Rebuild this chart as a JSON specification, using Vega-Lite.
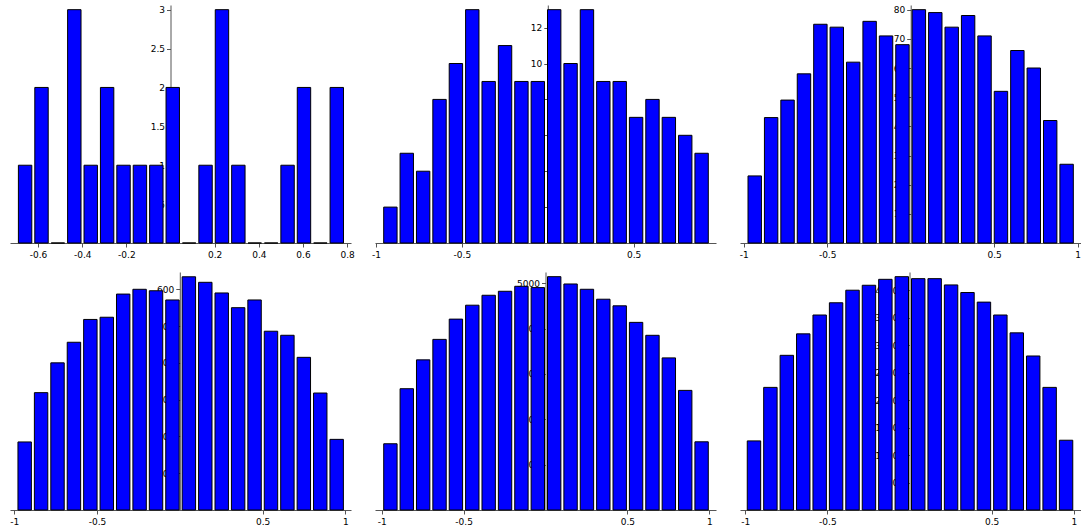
{
  "$schema": "https://vega.github.io/schema/vega-lite/v6.json",
  "autosize": {"type": "pad"},
  "padding": {"left": 9, "top": 5, "right": 0, "bottom": 0},
  "background": "white",
  "config": {
    "view": {"stroke": null},
    "axis": {
      "labelFont": "DejaVu Sans",
      "labelFontSize": 9,
      "labelColor": "#000",
      "domainColor": "#555",
      "tickColor": "#555",
      "tickSize": 4,
      "grid": false,
      "title": null,
      "zindex": 1,
      "labelExpr": "toString(datum.value)"
    },
    "axisX": {"labelPadding": 3},
    "axisY": {"labelPadding": 2}
  },
  "datasets": {
    "p1": [
      {"a": -0.698, "b": -0.6237, "n": 1}, {"a": -0.6237, "b": -0.5494, "n": 2}, {"a": -0.5494, "b": -0.4751, "n": 0}, {"a": -0.4751, "b": -0.4008, "n": 3},
      {"a": -0.4008, "b": -0.3265, "n": 1}, {"a": -0.3265, "b": -0.2522, "n": 2}, {"a": -0.2522, "b": -0.1779, "n": 1}, {"a": -0.1779, "b": -0.1036, "n": 1},
      {"a": -0.1036, "b": -0.0293, "n": 1}, {"a": -0.0293, "b": 0.045, "n": 2}, {"a": 0.045, "b": 0.1193, "n": 0}, {"a": 0.1193, "b": 0.1936, "n": 1},
      {"a": 0.1936, "b": 0.2679, "n": 3}, {"a": 0.2679, "b": 0.3422, "n": 1}, {"a": 0.3422, "b": 0.4165, "n": 0}, {"a": 0.4165, "b": 0.4908, "n": 0},
      {"a": 0.4908, "b": 0.5651, "n": 1}, {"a": 0.5651, "b": 0.6394, "n": 2}, {"a": 0.6394, "b": 0.7137, "n": 0}, {"a": 0.7137, "b": 0.788, "n": 2}
    ],
    "p2": [
      {"a": -0.967, "b": -0.8716, "n": 2}, {"a": -0.8716, "b": -0.7762, "n": 5}, {"a": -0.7762, "b": -0.6808, "n": 4}, {"a": -0.6808, "b": -0.5854, "n": 8},
      {"a": -0.5854, "b": -0.49, "n": 10}, {"a": -0.49, "b": -0.3946, "n": 13}, {"a": -0.3946, "b": -0.2992, "n": 9}, {"a": -0.2992, "b": -0.2038, "n": 11},
      {"a": -0.2038, "b": -0.1084, "n": 9}, {"a": -0.1084, "b": -0.013, "n": 9}, {"a": -0.013, "b": 0.0824, "n": 13}, {"a": 0.0824, "b": 0.1778, "n": 10},
      {"a": 0.1778, "b": 0.2732, "n": 13}, {"a": 0.2732, "b": 0.3686, "n": 9}, {"a": 0.3686, "b": 0.464, "n": 9}, {"a": 0.464, "b": 0.5594, "n": 7},
      {"a": 0.5594, "b": 0.6548, "n": 8}, {"a": 0.6548, "b": 0.7502, "n": 7}, {"a": 0.7502, "b": 0.8456, "n": 6}, {"a": 0.8456, "b": 0.941, "n": 5}
    ],
    "p3": [
      {"a": -0.986, "b": -0.8877, "n": 23}, {"a": -0.8877, "b": -0.7894, "n": 43}, {"a": -0.7894, "b": -0.6911, "n": 49}, {"a": -0.6911, "b": -0.5928, "n": 58},
      {"a": -0.5928, "b": -0.4945, "n": 75}, {"a": -0.4945, "b": -0.3962, "n": 74}, {"a": -0.3962, "b": -0.2979, "n": 62}, {"a": -0.2979, "b": -0.1996, "n": 76},
      {"a": -0.1996, "b": -0.1013, "n": 71}, {"a": -0.1013, "b": -0.003, "n": 68}, {"a": -0.003, "b": 0.0953, "n": 80}, {"a": 0.0953, "b": 0.1936, "n": 79},
      {"a": 0.1936, "b": 0.2919, "n": 74}, {"a": 0.2919, "b": 0.3902, "n": 78}, {"a": 0.3902, "b": 0.4885, "n": 71}, {"a": 0.4885, "b": 0.5868, "n": 52},
      {"a": 0.5868, "b": 0.6851, "n": 66}, {"a": 0.6851, "b": 0.7834, "n": 60}, {"a": 0.7834, "b": 0.8817, "n": 42}, {"a": 0.8817, "b": 0.98, "n": 27}
    ],
    "p4": [
      {"a": -0.99, "b": -0.8908, "n": 185}, {"a": -0.8908, "b": -0.7916, "n": 319}, {"a": -0.7916, "b": -0.6924, "n": 400}, {"a": -0.6924, "b": -0.5932, "n": 456},
      {"a": -0.5932, "b": -0.494, "n": 518}, {"a": -0.494, "b": -0.3948, "n": 524}, {"a": -0.3948, "b": -0.2956, "n": 587}, {"a": -0.2956, "b": -0.1964, "n": 600},
      {"a": -0.1964, "b": -0.0972, "n": 596}, {"a": -0.0972, "b": 0.002, "n": 571}, {"a": 0.002, "b": 0.1012, "n": 634}, {"a": 0.1012, "b": 0.2004, "n": 619},
      {"a": 0.2004, "b": 0.2996, "n": 590}, {"a": 0.2996, "b": 0.3988, "n": 550}, {"a": 0.3988, "b": 0.498, "n": 571}, {"a": 0.498, "b": 0.5972, "n": 486},
      {"a": 0.5972, "b": 0.6964, "n": 475}, {"a": 0.6964, "b": 0.7956, "n": 415}, {"a": 0.7956, "b": 0.8948, "n": 318}, {"a": 0.8948, "b": 0.994, "n": 192}
    ],
    "p5": [
      {"a": -1.0, "b": -0.9, "n": 1461}, {"a": -0.9, "b": -0.8, "n": 2675}, {"a": -0.8, "b": -0.7, "n": 3311}, {"a": -0.7, "b": -0.6, "n": 3763},
      {"a": -0.6, "b": -0.5, "n": 4210}, {"a": -0.5, "b": -0.4, "n": 4517}, {"a": -0.4, "b": -0.3, "n": 4736}, {"a": -0.3, "b": -0.2, "n": 4824},
      {"a": -0.2, "b": -0.1, "n": 4934}, {"a": -0.1, "b": 0.0, "n": 4905}, {"a": 0.0, "b": 0.1, "n": 5146}, {"a": 0.1, "b": 0.2, "n": 4985},
      {"a": 0.2, "b": 0.3, "n": 4868}, {"a": 0.3, "b": 0.4, "n": 4649}, {"a": 0.4, "b": 0.5, "n": 4503}, {"a": 0.5, "b": 0.6, "n": 4138},
      {"a": 0.6, "b": 0.7, "n": 3853}, {"a": 0.7, "b": 0.8, "n": 3355}, {"a": 0.8, "b": 0.9, "n": 2638}, {"a": 0.9, "b": 1.0, "n": 1504}
    ],
    "p6": [
      {"a": -1.0, "b": -0.9, "n": 12575}, {"a": -0.9, "b": -0.8, "n": 22312}, {"a": -0.8, "b": -0.7, "n": 28146}, {"a": -0.7, "b": -0.6, "n": 32055},
      {"a": -0.6, "b": -0.5, "n": 35483}, {"a": -0.5, "b": -0.4, "n": 37708}, {"a": -0.4, "b": -0.3, "n": 39994}, {"a": -0.3, "b": -0.2, "n": 40896},
      {"a": -0.2, "b": -0.1, "n": 41978}, {"a": -0.1, "b": 0.0, "n": 42460}, {"a": 0.0, "b": 0.1, "n": 42099}, {"a": 0.1, "b": 0.2, "n": 42099},
      {"a": 0.2, "b": 0.3, "n": 40957}, {"a": 0.3, "b": 0.4, "n": 39573}, {"a": 0.4, "b": 0.5, "n": 37829}, {"a": 0.5, "b": 0.6, "n": 35483},
      {"a": 0.6, "b": 0.7, "n": 32236}, {"a": 0.7, "b": 0.8, "n": 28026}, {"a": 0.8, "b": 0.9, "n": 22312}, {"a": 0.9, "b": 1.0, "n": 12696}
    ]
  },
  "columns": 3,
  "spacing": {"row": 29, "column": 24},
  "bounds": "flush",
  "concat": [
    {
      "data": {"name": "p1"}, "width": 341, "height": 238,
      "mark": {"type": "bar", "binSpacing": 3, "fill": "#0000ff", "stroke": "#000", "strokeWidth": 1},
      "encoding": {
        "x": {"field": "a", "type": "quantitative", "bin": "binned", "scale": {"domain": [-0.727, 0.8175], "nice": false, "zero": false}, "axis": {"values": [-0.6, -0.4, -0.2, 0.2, 0.4, 0.6, 0.8]}},
        "x2": {"field": "b"},
        "y": {"field": "n", "type": "quantitative", "scale": {"domain": [0, 3.06], "nice": false}, "axis": {"values": [0.5, 1, 1.5, 2, 2.5, 3], "offset": -160.5}}
      }
    },
    {
      "data": {"name": "p2"}, "width": 341, "height": 238,
      "mark": {"type": "bar", "binSpacing": 3, "fill": "#0000ff", "stroke": "#000", "strokeWidth": 1},
      "encoding": {
        "x": {"field": "a", "type": "quantitative", "bin": "binned", "scale": {"domain": [-1.006, 0.98], "nice": false, "zero": false}, "axis": {"values": [-1, -0.5, 0.5]}},
        "x2": {"field": "b"},
        "y": {"field": "n", "type": "quantitative", "scale": {"domain": [0, 13.26], "nice": false}, "axis": {"values": [2, 4, 6, 8, 10, 12], "offset": -172.8}}
      }
    },
    {
      "data": {"name": "p3"}, "width": 341, "height": 238,
      "mark": {"type": "bar", "binSpacing": 3, "fill": "#0000ff", "stroke": "#000", "strokeWidth": 1},
      "encoding": {
        "x": {"field": "a", "type": "quantitative", "bin": "binned", "scale": {"domain": [-1.022, 1.02], "nice": false, "zero": false}, "axis": {"values": [-1, -0.5, 0.5, 1]}},
        "x2": {"field": "b"},
        "y": {"field": "n", "type": "quantitative", "scale": {"domain": [0, 81.6], "nice": false}, "axis": {"values": [10, 20, 30, 40, 50, 60, 70, 80], "offset": -170.7}}
      }
    },
    {
      "data": {"name": "p4"}, "width": 341, "height": 238,
      "mark": {"type": "bar", "binSpacing": 3, "fill": "#0000ff", "stroke": "#000", "strokeWidth": 1},
      "encoding": {
        "x": {"field": "a", "type": "quantitative", "bin": "binned", "scale": {"domain": [-1.026, 1.034], "nice": false, "zero": false}, "axis": {"values": [-1, -0.5, 0.5, 1]}},
        "x2": {"field": "b"},
        "y": {"field": "n", "type": "quantitative", "scale": {"domain": [0, 647], "nice": false}, "axis": {"values": [100, 200, 300, 400, 500, 600], "offset": -169.8}}
      }
    },
    {
      "data": {"name": "p5"}, "width": 341, "height": 238,
      "mark": {"type": "bar", "binSpacing": 3, "fill": "#0000ff", "stroke": "#000", "strokeWidth": 1},
      "encoding": {
        "x": {"field": "a", "type": "quantitative", "bin": "binned", "scale": {"domain": [-1.041, 1.041], "nice": false, "zero": false}, "axis": {"values": [-1, -0.5, 0.5, 1]}},
        "x2": {"field": "b"},
        "y": {"field": "n", "type": "quantitative", "scale": {"domain": [0, 5249], "nice": false}, "axis": {"values": [1000, 2000, 3000, 4000, 5000], "offset": -170.5}}
      }
    },
    {
      "data": {"name": "p6"}, "width": 341, "height": 238,
      "mark": {"type": "bar", "binSpacing": 3, "fill": "#0000ff", "stroke": "#000", "strokeWidth": 1},
      "encoding": {
        "x": {"field": "a", "type": "quantitative", "bin": "binned", "scale": {"domain": [-1.032, 1.044], "nice": false, "zero": false}, "axis": {"values": [-1, -0.5, 0.5, 1]}},
        "x2": {"field": "b"},
        "y": {"field": "n", "type": "quantitative", "scale": {"domain": [0, 43309], "nice": false}, "axis": {"values": [5000, 10000, 15000, 20000, 25000, 30000, 35000, 40000], "offset": -169.5}}
      }
    }
  ]
}
